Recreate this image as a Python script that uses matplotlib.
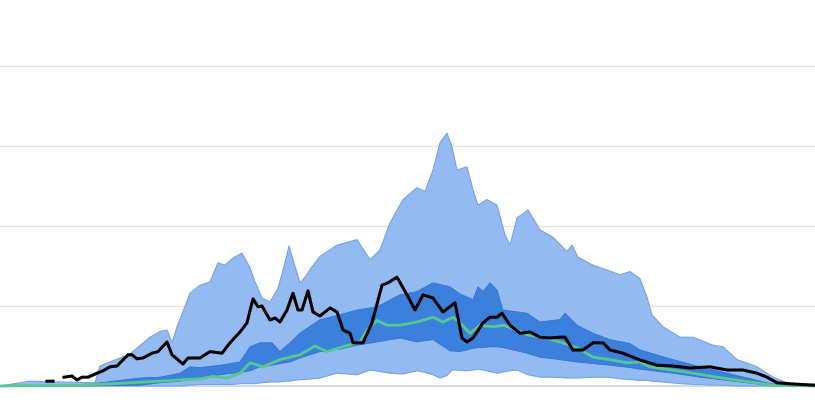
import matplotlib.pyplot as plt
import numpy as np

# time axis (arbitrary index) and band / line values
outer_t = [0, 30, 95, 100, 110, 130, 150, 160, 167, 172, 177, 183, 190, 200, 210,
           218, 225, 233, 242, 250, 255, 262, 270, 278, 285, 289, 293, 300, 305,
           312, 320, 337, 357, 370, 380, 390, 403, 417, 425, 433, 440, 447, 452,
           457, 467, 473, 478, 487, 497, 505, 510, 517, 528, 540, 553, 567, 572,
           578, 593, 607, 620, 630, 640, 647, 652, 663, 680, 693, 713, 723, 737,
           757, 773, 787, 807, 815]
outer_hi = [0, 0.06, 0.04, 0.25, 0.30, 0.40, 0.61, 0.68, 0.70, 0.54, 0.74, 0.93, 1.16,
            1.26, 1.30, 1.54, 1.51, 1.60, 1.66, 1.48, 1.30, 1.10, 1.05, 1.22, 1.54,
            1.75, 1.58, 1.29, 1.36, 1.49, 1.62, 1.76, 1.83, 1.58, 1.70, 2.04, 2.33,
            2.48, 2.43, 2.70, 3.04, 3.16, 2.99, 2.70, 2.74, 2.45, 2.26, 2.33, 2.26,
            1.89, 1.76, 2.10, 2.20, 1.95, 1.86, 1.68, 1.76, 1.61, 1.51, 1.45, 1.39,
            1.43, 1.34, 1.11, 0.89, 0.74, 0.61, 0.61, 0.51, 0.49, 0.33, 0.24, 0.11,
            0.04, 0.01, 0]
outer_lo = [0, 0, 0, 0, 0, 0, 0, 0, 0, 0, 0, 0, 0.01, 0.02, 0.02, 0.02, 0.02, 0.02,
            0.03, 0.03, 0.03, 0.04, 0.05, 0.05, 0.06, 0.06, 0.07, 0.08, 0.08, 0.09,
            0.10, 0.16, 0.14, 0.20, 0.18, 0.16, 0.15, 0.19, 0.17, 0.14, 0.10, 0.13,
            0.20, 0.20, 0.19, 0.20, 0.21, 0.19, 0.16, 0.18, 0.19, 0.20, 0.14, 0.11,
            0.11, 0.10, 0.10, 0.10, 0.11, 0.11, 0.09, 0.08, 0.07, 0.07, 0.06, 0.05,
            0.03, 0.02, 0.01, 0.01, 0, 0, 0, 0, 0, 0]

inner_t = [0, 80, 140, 160, 180, 190, 200, 220, 240, 250, 260, 272, 280, 290, 300,
           320, 340, 357, 377, 400, 417, 433, 450, 460, 473, 478, 483, 490, 497,
           503, 527, 540, 560, 565, 577, 593, 610, 630, 640, 673, 700, 727, 747,
           767, 780, 815]
inner_hi = [0, 0.01, 0.10, 0.11, 0.16, 0.24, 0.23, 0.26, 0.30, 0.49, 0.54, 0.54,
            0.43, 0.54, 0.66, 0.83, 0.89, 0.95, 0.99, 1.14, 1.18, 1.29, 1.24, 1.15,
            1.08, 1.24, 1.18, 1.29, 1.20, 0.95, 0.91, 0.80, 0.83, 0.91, 0.76, 0.66,
            0.58, 0.53, 0.45, 0.33, 0.24, 0.16, 0.10, 0.04, 0.01, 0]
inner_lo = [0, 0, 0.01, 0.04, 0.06, 0.08, 0.10, 0.14, 0.17, 0.19, 0.24, 0.26, 0.28,
            0.30, 0.35, 0.43, 0.46, 0.51, 0.55, 0.60, 0.55, 0.58, 0.44, 0.43, 0.47,
            0.48, 0.48, 0.49, 0.49, 0.48, 0.41, 0.36, 0.33, 0.32, 0.30, 0.28, 0.26,
            0.23, 0.21, 0.16, 0.11, 0.07, 0.04, 0.01, 0, 0]

median_t = [0, 80, 130, 200, 213, 227, 240, 250, 263, 280, 300, 315, 327, 340, 360,
            367, 377, 387, 400, 417, 433, 443, 453, 460, 470, 480, 493, 503, 517,
            527, 543, 560, 577, 593, 610, 627, 640, 650, 683, 717, 750, 773, 815]
median = [0, 0.01, 0.04, 0.09, 0.12, 0.10, 0.16, 0.29, 0.24, 0.33, 0.39, 0.50, 0.43,
          0.48, 0.55, 0.70, 0.82, 0.76, 0.76, 0.80, 0.86, 0.80, 0.86, 0.79, 0.66,
          0.76, 0.74, 0.76, 0.70, 0.64, 0.61, 0.55, 0.48, 0.36, 0.33, 0.29, 0.30,
          0.24, 0.18, 0.11, 0.05, 0.01, 0]

observed_t = [47, 53, 58, 64, 72, 77, 82, 88, 97, 103, 110, 117, 128, 132, 137, 143,
              152, 158, 167, 172, 183, 188, 200, 210, 222, 230, 240, 247, 253, 258,
              262, 270, 275, 280, 287, 293, 298, 302, 308, 313, 320, 330, 337, 343,
              350, 353, 363, 372, 382, 388, 397, 407, 415, 423, 433, 443, 455, 462,
              467, 473, 483, 490, 497, 502, 510, 520, 530, 540, 550, 560, 565, 573,
              583, 593, 603, 610, 623, 640, 657, 673, 690, 710, 727, 743, 757, 767,
              777, 793, 815]
observed = [0.06, 0.06, np.nan, 0.11, 0.125, 0.075, 0.11, 0.11, 0.16, 0.19, 0.24,
            0.25, 0.39, 0.39, 0.34, 0.35, 0.41, 0.43, 0.55, 0.39, 0.275, 0.35, 0.35,
            0.43, 0.41, 0.54, 0.675, 0.79, 1.09, 0.99, 1.00, 0.825, 0.85, 0.80, 0.95,
            1.16, 0.95, 0.95, 1.19, 0.925, 0.875, 0.975, 0.925, 0.70, 0.66, 0.54,
            0.54, 0.79, 1.26, 1.29, 1.36, 1.14, 0.95, 1.14, 1.10, 0.925, 1.04, 0.60,
            0.55, 0.60, 0.79, 0.86, 0.86, 0.91, 0.76, 0.66, 0.675, 0.61, 0.60, 0.61,
            0.61, 0.45, 0.45, 0.54, 0.54, 0.45, 0.41, 0.325, 0.26, 0.25, 0.225, 0.24,
            0.20, 0.20, 0.16, 0.11, 0.04, 0.025, 0.01]

grid_levels = [1, 2, 3, 4]

fig = plt.figure(figsize=(8.15, 4), dpi=100)
ax = fig.add_axes([0, 0, 1, 1])

for g in grid_levels:
    ax.axhline(g, color='#e4e4e4', lw=1, zorder=0)
ax.axhline(0, color='#d0d4da', lw=1.2, zorder=0)

ax.fill_between(outer_t, outer_lo, outer_hi, facecolor='#93bbf2',
                edgecolor='#74a3e8', lw=0.8, zorder=1)
ax.fill_between(inner_t, inner_lo, inner_hi, facecolor='#3b80dd',
                edgecolor='#3372d0', lw=0.6, zorder=2)
ax.plot(median_t, median, color='#55c98f', lw=2, zorder=3)
ax.plot(observed_t, observed, color='black', lw=2.2, zorder=4)

ax.set_xlim(0, 815)
ax.set_ylim(-0.175, 4.825)
ax.axis('off')

fig.savefig('out.png', dpi=100)
